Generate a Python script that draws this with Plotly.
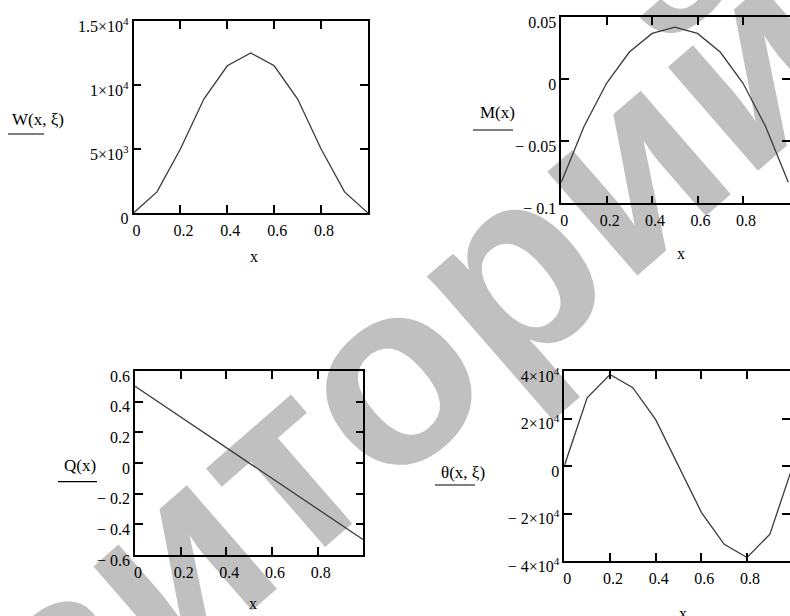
import math
import plotly.graph_objects as go

# ---------------- data ----------------
x_vals = [0.0, 0.1, 0.2, 0.3, 0.4, 0.5, 0.6, 0.7, 0.8, 0.9, 1.0]
W_vals = [0, 1650, 5000, 8900, 11500, 12500, 11500, 8900, 5000, 1650, 0]
M_vals = [-0.083, -0.038, -0.003, 0.022, 0.037, 0.042, 0.037, 0.022, -0.003, -0.038, -0.083]
Q_vals = [0.5, 0.4, 0.3, 0.2, 0.1, 0.0, -0.1, -0.2, -0.3, -0.4, -0.5]
T_vals = [0, 28700, 38500, 33000, 19500, 0, -19500, -33000, -38500, -28700, 0]

x_tickvals = [0, 0.2, 0.4, 0.6, 0.8]
x_ticktext = ["0", "0.2", "0.4", "0.6", "0.8"]

W_tickvals = [0, 5000, 10000, 15000]
W_ticktext = ["0", "5×10<sup>3</sup>", "1×10<sup>4</sup>", "1.5×10<sup>4</sup>"]
M_tickvals = [-0.1, -0.05, 0, 0.05]
M_ticktext = ["− 0.1", "− 0.05", "0", "0.05"]
Q_tickvals = [-0.6, -0.4, -0.2, 0, 0.2, 0.4, 0.6]
Q_ticktext = ["− 0.6", "− 0.4", "− 0.2", "0", "0.2", "0.4", "0.6"]
T_tickvals = [-40000, -20000, 0, 20000, 40000]
T_ticktext = ["− 4×10<sup>4</sup>", "− 2×10<sup>4</sup>", "0", "2×10<sup>4</sup>", "4×10<sup>4</sup>"]

y_labels = ["W(x, ξ)", "M(x)", "Q(x)", "θ(x, ξ)"]
watermark = "Репозиторий БНТУ"

# ---------------- layout helpers ----------------
FW, FH = 790, 616
def px(x):
    return x / FW
def py(y):
    return 1 - y / FH

FONT = "'Liberation Serif', 'Times New Roman', serif"
LINE_COLOR = "#3a3a3a"

fig = go.Figure()

series = [W_vals, M_vals, Q_vals, T_vals]
for i, s in enumerate(series):
    sfx = "" if i == 0 else str(i + 1)
    fig.add_trace(go.Scatter(x=x_vals, y=s, mode="lines",
                             line=dict(color=LINE_COLOR, width=1.3),
                             xaxis="x" + sfx, yaxis="y" + sfx, showlegend=False,
                             cliponaxis=True))

# plot boxes in pixels: (left, right, top, bottom), x range
boxes = [
    (133.5, 368, 21, 213, [0, 1.0]),
    (561.3, 790, 17.3, 203.3, [0, 1.0075]),
    (135, 363.3, 371, 555, [0, 1.0]),
    (564.3, 790, 371, 561, [0, 0.988]),
]
yticks = [(W_tickvals, W_ticktext, [0, 15000]),
          (M_tickvals, M_ticktext, [-0.1, 0.05]),
          (Q_tickvals, Q_ticktext, [-0.6, 0.6]),
          (T_tickvals, T_ticktext, [-40000, 40000])]

common = dict(showgrid=False, zeroline=False, showline=True, linecolor="black",
              linewidth=1.6, mirror="ticks", ticks="inside", ticklen=8,
              tickwidth=1.5, tickcolor="black", automargin=False,
              tickfont=dict(family=FONT, size=16, color="black"))

layout = {}
for i, ((l, r, t, b, xr), (tv, tt, yr)) in enumerate(zip(boxes, yticks)):
    sfx = "" if i == 0 else str(i + 1)
    layout["xaxis" + sfx] = dict(common, domain=[px(l), px(r)], range=xr,
                                 anchor="y" + sfx, tickvals=x_tickvals,
                                 ticktext=x_ticktext, ticklabelshift=3,
                                 ticklabelstandoff=2)
    layout["yaxis" + sfx] = dict(common, domain=[py(b), py(t)], range=yr,
                                 anchor="x" + sfx, tickvals=tv, ticktext=tt,
                                 ticklabelshift=5, ticklabelstandoff=0)

fig.update_layout(**layout)

annotations = []
# "x" axis titles
for (xc, yc) in [(254, 257), (681, 253), (253, 603), (683, 613)]:
    annotations.append(dict(x=px(xc), y=py(yc), xref="paper", yref="paper",
                            text="x", showarrow=False, xanchor="center", yanchor="middle",
                            font=dict(family=FONT, size=16, color="black")))
# y labels with underlines
label_pos = [(38, 120), (497, 113), (80, 465), (463, 472)]
underlines = [(8, 44, 134), (473, 513, 130), (58, 97, 481.7), (435, 475, 485)]
for lab, (xc, yc) in zip(y_labels, label_pos):
    annotations.append(dict(x=px(xc), y=py(yc), xref="paper", yref="paper",
                            text=lab, showarrow=False, xanchor="center", yanchor="middle",
                            font=dict(family=FONT, size=17, color="black")))

shapes = []
for (x0, x1, yy) in underlines:
    shapes.append(dict(type="line", xref="paper", yref="paper",
                       x0=px(x0), x1=px(x1), y0=py(yy), y1=py(yy),
                       line=dict(color="black", width=1.2)))

# watermark (behind content)
cx, cy = 448, 289
ang = math.radians(41)
L = 600
dx, dy = L * math.cos(ang), L * math.sin(ang)
shapes.append(dict(type="line", xref="paper", yref="paper", layer="below",
                   x0=px(cx - dx), y0=py(cy + dy), x1=px(cx + dx), y1=py(cy - dy),
                   line=dict(color="rgba(0,0,0,0)", width=0),
                   label=dict(text=watermark, textposition="middle", yanchor="middle",
                              font=dict(family="'Liberation Sans', Arial, sans-serif",
                                        size=260, color="#c0c0c0", weight="bold"))))

fig.update_layout(width=FW, height=FH, margin=dict(l=0, r=0, t=0, b=0),
                  paper_bgcolor="white", plot_bgcolor="rgba(0,0,0,0)",
                  showlegend=False, annotations=annotations, shapes=shapes)

fig.write_html("out.html", config={"displayModeBar": False},
               post_script="document.body.style.margin='0px';")
